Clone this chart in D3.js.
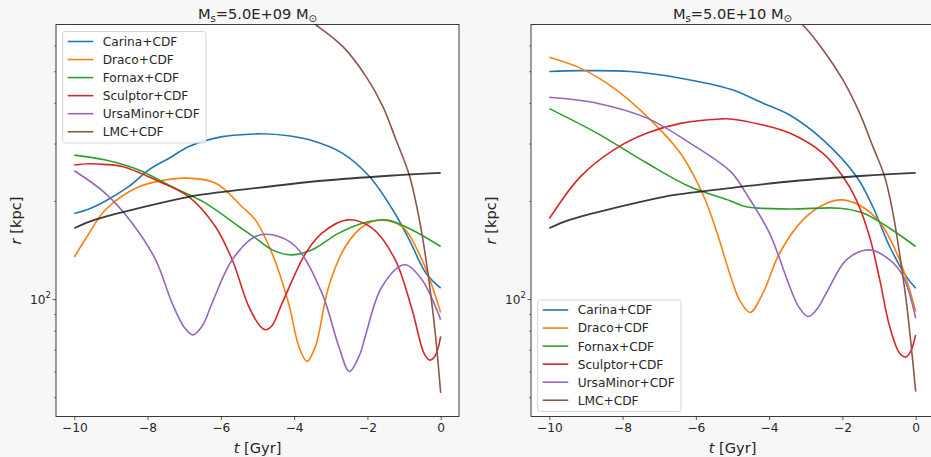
<!DOCTYPE html>
<html><head><meta charset="utf-8">
<script src="https://cdn.jsdelivr.net/npm/d3@7/dist/d3.min.js"></script>
<style>
body{margin:0;background:#f7f7f7;}
svg text{font-family:"DejaVu Sans",sans-serif;fill:#262626;}
</style>
</head><body>
<svg id="chart" width="931" height="457"></svg>
<script>
// ---------- data ----------
const seriesNames = ["Carina+CDF","Draco+CDF","Fornax+CDF","Sculptor+CDF","UrsaMinor+CDF","LMC+CDF"];
const panelMass = ["5.0E+09","5.0E+10"];
const xTickValues = [-10,-8,-6,-4,-2,0];
const yMajorTicks = [100];
const yMinorTicks = [50,60,70,80,90,200,300,400,500,600];

// host (black) curve, same in both panels  [t Gyr, r kpc]
const hostR = [[-10,165],[-9.6,172.5],[-9.15,179],[-8.24,190],[-6.87,206],[-5.06,219],[-3.24,230.7],[-1.42,239],[0,244]];

// left panel, Ms = 5.0E+09
const carinaA = [[-10,183],[-9.6,189],[-9.15,200],[-8.5,222],[-7.97,249],[-7.4,271],[-6.87,294],[-5.96,315],[-5.06,321],[-4.9,321.5],[-4.15,317],[-3.58,308],[-2.675,280],[-1.95,238],[-1.31,188],[-0.856,152],[-0.4,120],[0,108]];
const dracoA = [[-10,134.5],[-9.6,159],[-9.15,188],[-8.24,221],[-7.51,232],[-6.96,235],[-6.15,227],[-5.42,192],[-5.06,175],[-4.6,138],[-4.15,97],[-3.87,71.5],[-3.65,64.4],[-3.42,71.5],[-3.06,109],[-2.6,145],[-2.06,169],[-1.6,174.5],[-1.06,167],[-0.51,132],[0,91]];
const fornaxA = [[-10,276.5],[-9.15,267],[-8.24,249],[-7.33,221],[-6.42,197],[-5.51,167],[-5.06,154],[-4.6,141.6],[-4.06,136.7],[-3.51,141.6],[-2.78,159.4],[-2.06,171.8],[-1.49,175],[-0.78,163],[0,145]];
const sculptorA = [[-10,257.7],[-9.6,260],[-9.2,259],[-8.69,255],[-7.78,232],[-6.87,206],[-6.15,167],[-5.69,132],[-5.24,95],[-4.92,82.4],[-4.78,80.5],[-4.6,83],[-4.33,97],[-3.69,138],[-3.24,159.4],[-2.54,175],[-1.87,165],[-1.24,132],[-0.78,92.7],[-0.45,68],[-0.3,65],[-0.15,67],[0,76.8]];
const ursaMinorA = [[-10,247.5],[-9.15,211],[-8.42,171],[-7.78,132],[-7.33,97.2],[-7.0,82],[-6.76,77.7],[-6.5,83],[-6.24,97.2],[-5.69,132],[-5.06,155.6],[-4.6,157.5],[-3.96,145],[-3.24,104.3],[-2.78,71.5],[-2.49,60],[-2.2,68],[-2.06,76.8],[-1.6,109.3],[-0.99,127.4],[-0.51,114.6],[0,86.4]];
const lmcA = [[-3.8,745],[-3.4,693],[-2.675,596],[-2.04,482],[-1.58,390],[-1.22,308],[-0.856,240],[-0.58,175],[-0.40,132],[-0.265,101.9],[-0.13,75],[0,51.5]];

// right panel, Ms = 5.0E+10
const carinaB = [[-10,499],[-9.15,502],[-7.79,499],[-6.42,476],[-5.05,440],[-4.17,399],[-3.44,367],[-2.53,308],[-1.62,238],[-1.17,192],[-0.71,145],[-0.25,117],[0,108]];
const dracoB = [[-10,552],[-9.15,511],[-8.24,444],[-7.33,363],[-6.42,280],[-5.78,206],[-5.42,159.4],[-5.05,117.3],[-4.81,99.5],[-4.52,91],[-4.17,104.3],[-3.72,138],[-3.08,175],[-2.53,194.5],[-2.05,201.6],[-1.53,194],[-0.98,172],[-0.44,132],[0,91.6]];
const fornaxB = [[-10,384],[-8.7,323],[-7.33,261],[-6.16,221],[-5.05,200],[-4.63,192],[-3.44,189],[-2.08,190],[-1.44,183.6],[-0.71,165],[0,145]];
const sculptorB = [[-10,176.5],[-9.15,237.6],[-8.24,287],[-7.33,323],[-6.42,346],[-5.33,357],[-5.08,357],[-4.17,342],[-3.44,323],[-2.53,280],[-1.99,238],[-1.62,201.6],[-1.26,155.6],[-0.98,114.6],[-0.71,82.4],[-0.44,68.3],[-0.27,66.4],[-0.14,69],[0,77.7]];
const ursaMinorB = [[-10,416],[-8.7,399],[-7.33,359],[-6.16,301],[-5.05,246],[-4.63,211],[-3.99,159.4],[-3.44,109.3],[-3.2,95],[-2.94,88.4],[-2.7,93],[-2.44,104.3],[-1.89,132],[-1.26,141.6],[-0.71,132],[-0.35,118],[0,87.4]];
const lmcB = [[-3.5,760],[-3.08,693],[-2.53,582],[-1.99,471],[-1.53,372],[-1.17,294],[-0.85,238],[-0.62,183.6],[-0.44,138],[-0.25,97],[-0.12,71.5],[0,52]];

const colors = ["#1f77b4","#ff7f0e","#2ca02c","#d62728","#9467bd","#8c564b"];

// ---------- layout ----------
const svg = d3.select("#chart");
const W = 403, yTop = 24.5, yBot = 416.5;
const panels = [
  {x0:56, series:[carinaA,dracoA,fornaxA,sculptorA,ursaMinorA,lmcA], mass:panelMass[0], legend:"upper"},
  {x0:531, series:[carinaB,dracoB,fornaxB,sculptorB,ursaMinorB,lmcB], mass:panelMass[1], legend:"lower"}
];
const yDomain = [Math.pow(10,1.6399), Math.pow(10,2.8423)];
const fs = 12.2;

panels.forEach((p,pi)=>{
  const x = d3.scaleLinear().domain([-10.5,0.5]).range([p.x0, p.x0+W]);
  const y = d3.scaleLog().domain(yDomain).range([yBot, yTop]);
  const g = svg.append("g");
  g.append("rect").attr("x",p.x0).attr("y",yTop).attr("width",W).attr("height",yBot-yTop).attr("fill","#fff");
  const clipId = "clip"+pi;
  svg.append("clipPath").attr("id",clipId).append("rect")
     .attr("x",p.x0).attr("y",yTop).attr("width",W).attr("height",yBot-yTop);

  const line = d3.line().x(d=>x(d[0])).y(d=>y(d[1])).curve(d3.curveCatmullRom.alpha(0.5));
  const lg = g.append("g").attr("clip-path",`url(#${clipId})`);
  p.series.forEach((s,i)=>{
    lg.append("path").datum(s).attr("d",line).attr("fill","none")
      .attr("stroke",colors[i]).attr("stroke-width",1.6).attr("stroke-linejoin","round");
  });
  lg.append("path").datum(hostR).attr("d",line).attr("fill","none")
    .attr("stroke","#1a1a1a").attr("stroke-opacity",0.85).attr("stroke-width",1.8);

  // axes
  const xa = g.append("g").attr("transform",`translate(0,${yBot})`)
    .call(d3.axisBottom(x).tickValues(xTickValues).tickSize(3.5).tickPadding(3.5)
      .tickFormat(d=> d<0 ? "\u2212"+Math.abs(d) : String(d)));
  xa.select(".domain").remove();
  xa.selectAll("line").attr("stroke","#333").attr("stroke-width",0.8);
  xa.selectAll("text").attr("font-size",fs).attr("font-family","DejaVu Sans").attr("fill","#262626");

  const ya = g.append("g").attr("transform",`translate(${p.x0},0)`)
    .call(d3.axisLeft(y).tickValues(yMajorTicks).tickSize(3.5).tickFormat(""));
  ya.select(".domain").remove();
  ya.selectAll("line").attr("stroke","#333").attr("stroke-width",0.8);
  const ym = g.append("g").attr("transform",`translate(${p.x0},0)`)
    .call(d3.axisLeft(y).tickValues(yMinorTicks).tickSize(2).tickFormat(""));
  ym.select(".domain").remove();
  ym.selectAll("line").attr("stroke","#333").attr("stroke-width",0.6);

  yMajorTicks.forEach(v=>{
    const t = g.append("text").attr("x",p.x0-5).attr("y",y(v)+4.4)
      .attr("text-anchor","end").attr("font-size",fs);
    t.append("tspan").text("10");
    t.append("tspan").attr("font-size",8.5).attr("dy",-5.5).text(String(Math.round(Math.log10(v))));
  });

  // spines
  g.append("rect").attr("x",p.x0).attr("y",yTop).attr("width",W).attr("height",yBot-yTop)
    .attr("fill","none").attr("stroke","#262626").attr("stroke-width",0.9);

  // title
  const cx = p.x0 + W/2;
  const tt = g.append("text").attr("x",cx).attr("y",19).attr("text-anchor","middle").attr("font-size",14.6);
  tt.append("tspan").text("M");
  tt.append("tspan").attr("font-size",10.2).attr("dy",3).text("s");
  tt.append("tspan").attr("dy",-3).text("=" + p.mass + " M");
  tt.append("tspan").attr("font-size",10.2).attr("dy",3).text("\u2299");

  // axis labels
  const xl = g.append("text").attr("x",cx).attr("y",453).attr("text-anchor","middle").attr("font-size",14.6);
  xl.append("tspan").attr("font-style","italic").text("t");
  xl.append("tspan").text(" [Gyr]");
  const yl = g.append("text").attr("transform",`translate(${p.x0-35.5},${(yTop+yBot)/2}) rotate(-90)`)
    .attr("text-anchor","middle").attr("font-size",14.6);
  yl.append("tspan").attr("font-style","italic").text("r");
  yl.append("tspan").text(" [kpc]");

  // legend
  const lw = 143.3, lh = 111.5;
  const lx = p.x0 + 6.7;
  const ly = p.legend==="upper" ? yTop + 7 : yBot - 5 - lh;
  const leg = g.append("g");
  leg.append("rect").attr("x",lx).attr("y",ly).attr("width",lw).attr("height",lh).attr("rx",2.5)
    .attr("fill","#fff").attr("fill-opacity",0.8).attr("stroke","#d0d0d0").attr("stroke-width",0.9);
  seriesNames.forEach((n,i)=>{
    const ry = ly + 10 + i*18.05;
    leg.append("line").attr("x1",lx+5).attr("x2",lx+30.6).attr("y1",ry).attr("y2",ry)
      .attr("stroke",colors[i]).attr("stroke-width",1.6);
    leg.append("text").attr("x",lx+40).attr("y",ry+4.4).attr("font-size",fs).text(n);
  });
});
</script>
</body></html>
